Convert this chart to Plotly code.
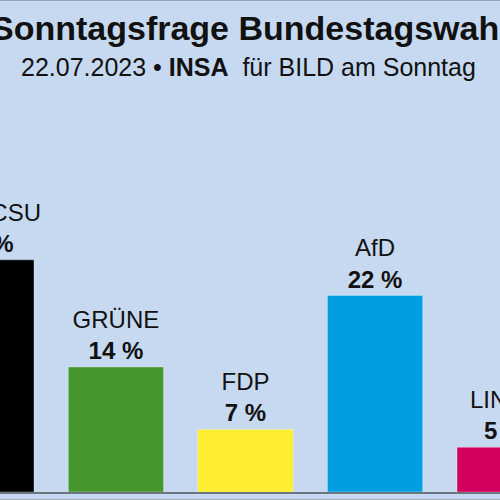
import plotly.graph_objects as go

# INSA, 22.07.2023 - Sonntagsfrage (Werte in %)
parties = ["SPD", "CDU/CSU", "GRÜNE", "FDP", "AfD", "LINKE", "Sonstige"]
values = [20, 26, 14, 7, 22, 5, 6]
colors = ["#e3000f", "#000000", "#46962b", "#ffed2f", "#009ee0", "#d1005e", "#a0a0a0"]

bg = "#c6d9f0"
font_family = "Liberation Sans, Arial"

# Das Original ist ein Ausschnitt: ganze Grafik zeichnen, Fenster zeigt nur 500 px davon
FIG_W = 907
X_RANGE = [-0.5, 6.5]
SHIFT = 208  # px, die links aus dem Fenster geschoben werden
VIEW_W = 500

labels = [f"{p}<br><b>{v} %</b>" for p, v in zip(parties, values)]

fig = go.Figure()
fig.add_trace(
    go.Bar(
        x=parties,
        y=values,
        text=labels,
        textposition="outside",
        textfont=dict(family=font_family, size=24, color="#111111"),
        constraintext="none",
        cliponaxis=False,
        marker=dict(color=colors, line=dict(color="rgba(255,255,255,0.3)", width=1)),
        width=0.735,
        hoverinfo="skip",
    )
)

fig.update_layout(
    width=FIG_W, height=500,
    margin=dict(l=0, r=0, t=0, b=8),
    paper_bgcolor=bg, plot_bgcolor=bg,
    showlegend=False,
    xaxis=dict(range=X_RANGE, showticklabels=False, showgrid=False,
               showline=True, linecolor="#6d7580", linewidth=2, zeroline=False),
    yaxis=dict(range=[0, 55.1], visible=False),
)

fig.add_annotation(
    x=(SHIFT + VIEW_W / 2) / FIG_W, y=0.944, xref="paper", yref="paper",
    text="<b>Sonntagsfrage Bundestagswahl</b>",
    showarrow=False, yanchor="middle",
    font=dict(family=font_family, size=34, color="#111111"),
)
fig.add_annotation(
    x=(SHIFT + VIEW_W / 2 - 2) / FIG_W, y=0.864, xref="paper", yref="paper",
    text="22.07.2023 • <b>INSA</b>  für BILD am Sonntag",
    showarrow=False, yanchor="middle",
    font=dict(family=font_family, size=25, color="#111111"),
)

# dünne graue Linien am oberen und unteren Rand
fig.add_shape(type="line", xref="paper", yref="paper", x0=0, x1=1, y0=1, y1=1,
              line=dict(color="#9aa4b0", width=2))
fig.add_shape(type="line", xref="paper", yref="paper", x0=0, x1=1, y0=-0.016, y1=-0.016,
              line=dict(color="#aab2bc", width=2))

js = (
    "document.body.style.margin='0';"
    "document.body.style.overflow='hidden';"
    "document.documentElement.style.overflow='hidden';"
    "document.getElementById('{plot_id}').style.marginLeft='-%dpx';" % SHIFT
)
fig.write_html("out.html", config={"displayModeBar": False}, post_script=js)
